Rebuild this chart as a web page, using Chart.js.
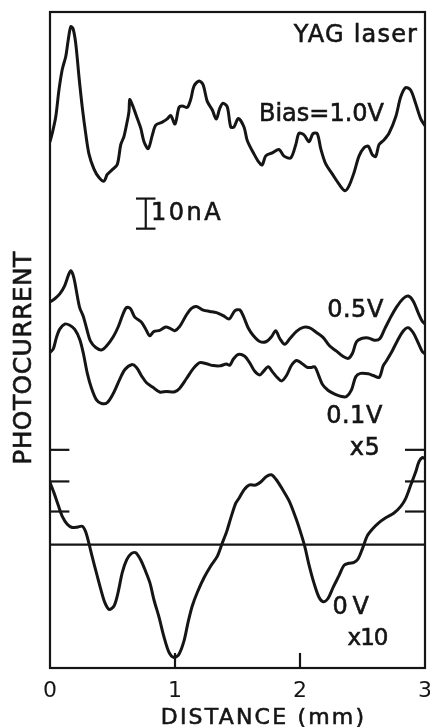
<!DOCTYPE html>
<html>
<head>
<meta charset="utf-8">
<script src="https://cdn.jsdelivr.net/npm/chart.js@4.4.1/dist/chart.umd.min.js"></script>
<style>
  html, body { margin: 0; padding: 0; background: #fff; }
  canvas { display: block; background: #fff; }
</style>
</head>
<body>
<canvas id="c" width="430" height="727"></canvas>
<script>
// Photocurrent line scans across the sample (YAG laser), traces stacked with offsets.
// Distance in mm, current in displayed nA (0.1 V trace shown x5, 0 V trace shown x10).

const xTickValues = [0, 1, 2, 3];

const bias10Dist = [0,0.018,0.046,0.072,0.098,0.126,0.146,0.166,0.184,0.206,
  0.232,0.258,0.286,0.312,0.352,0.392,0.432,0.458,0.498,0.538,
  0.566,0.592,0.618,0.632,0.638,0.658,0.698,0.726,0.752,0.786,
  0.818,0.846,0.898,0.938,0.966,1.0,1.032,1.058,1.098,1.126,
  1.152,1.192,1.224,1.258,1.298,1.33,1.358,1.384,1.418,1.446,
  1.472,1.506,1.552,1.578,1.632,1.672,1.698,1.726,1.778,1.832,
  1.872,1.926,1.966,1.992,2.032,2.072,2.104,2.138,2.166,2.206,
  2.258,2.312,2.36,2.392,2.432,2.472,2.512,2.546,2.578,2.606,
  2.632,2.672,2.712,2.766,2.806,2.846,2.886,2.926,2.966,3.0];
const bias10Curr = [174.9,177.7,183.2,192.2,198.9,203.2,208.8,213.1,212.5,207.5,
  196.4,186.4,177.5,170.8,165.8,163.0,161.8,164.0,165.6,167.3,
  173.9,176.7,181.7,185.0,188.9,187.2,182.7,179.4,174.9,172.6,
  177.0,180.4,181.4,182.5,183.6,180.8,186.3,186.8,186.3,189.0,
  193.4,195.1,193.9,188.3,185.5,182.4,186.0,187.7,186.5,179.8,
  179.8,182.6,179.8,175.3,170.8,168.0,167.2,170.2,171.2,172.3,
  170.1,169.5,173.9,177.7,177.2,174.9,177.6,177.6,172.6,167.5,
  164.2,160.8,158.6,160.2,164.6,170.1,172.9,173.4,170.6,170.0,
  173.9,175.5,177.7,183.2,189.8,192.9,192.0,187.5,182.5,180.2];

const bias05Dist = [0,0.038,0.078,0.118,0.146,0.166,0.19,0.218,0.238,0.266,
  0.292,0.324,0.366,0.412,0.452,0.506,0.546,0.58,0.612,0.644,
  0.678,0.732,0.766,0.798,0.83,0.878,0.926,0.964,0.998,1.038,
  1.092,1.132,1.172,1.226,1.278,1.332,1.386,1.434,1.478,1.518,
  1.546,1.586,1.626,1.678,1.732,1.772,1.806,1.838,1.878,1.918,
  1.972,2.026,2.078,2.132,2.186,2.238,2.292,2.346,2.386,2.42,
  2.452,2.492,2.546,2.598,2.638,2.678,2.718,2.772,2.826,2.866,
  2.906,2.946,2.978,3.0];
const bias05Curr = [121.6,122.7,124.3,127.1,130.4,132.0,129.8,123.7,119.7,116.9,
  113.0,108.6,106.5,105.7,107.0,110.1,113.4,117.2,119.8,119.4,
  116.6,114.9,112.6,110.4,111.8,112.2,113.3,112.8,112.1,113.5,
  117.4,119.5,120.1,118.9,118.5,118.1,117.1,116.0,118.7,119.0,
  117.0,113.0,110.5,108.5,108.5,110.1,112.1,109.5,107.6,109.4,
  111.9,113.2,113.0,111.5,109.8,107.0,105.3,103.5,102.9,104.6,
  108.4,109.5,109.7,108.9,109.4,112.7,116.0,119.9,122.8,123.6,
  121.9,118.0,115.2,114.3];

const bias01Dist = [0,0.026,0.052,0.078,0.118,0.158,0.198,0.238,0.266,0.298,
  0.332,0.372,0.412,0.458,0.506,0.554,0.598,0.652,0.692,0.732,
  0.772,0.826,0.878,0.932,0.998,1.038,1.092,1.146,1.198,1.252,
  1.306,1.358,1.412,1.438,1.466,1.506,1.558,1.598,1.638,1.678,
  1.706,1.746,1.78,1.812,1.852,1.892,1.932,1.972,2.012,2.058,
  2.092,2.118,2.146,2.18,2.226,2.278,2.332,2.372,2.412,2.446,
  2.484,2.546,2.586,2.634,2.666,2.692,2.732,2.772,2.826,2.866,
  2.906,2.946,2.978,3.0];
const bias01Curr = [104.9,106.0,109.9,112.6,114.3,113.9,112.5,109.2,104.7,98.0,
  93.0,89.1,87.9,88.2,91.2,95.6,99.1,100.8,99.9,97.1,
  94.8,93.2,91.7,91.9,91.8,93.0,96.2,99.5,101.5,101.1,
  100.5,100.4,101.0,100.6,102.6,104.2,103.6,101.4,98.6,97.4,
  98.5,100.1,98.4,96.8,95.4,97.2,100.6,102.2,101.3,99.9,
  99.9,100.1,97.6,94.2,92.2,91.0,90.2,90.2,92.4,96.8,
  97.9,97.8,97.2,96.6,100.5,102.1,104.9,108.2,112.0,113.1,
  111.4,108.0,105.2,104.4];

const bias00Dist = [0,0.032,0.064,0.098,0.138,0.178,0.218,0.258,0.286,0.312,
  0.338,0.374,0.406,0.438,0.472,0.512,0.544,0.578,0.614,0.65,
  0.686,0.726,0.766,0.8,0.832,0.872,0.912,0.952,0.992,1.032,
  1.072,1.104,1.138,1.178,1.232,1.286,1.338,1.378,1.414,1.446,
  1.486,1.512,1.552,1.592,1.646,1.686,1.726,1.77,1.806,1.858,
  1.912,1.966,2.006,2.038,2.072,2.112,2.152,2.186,2.224,2.266,
  2.312,2.352,2.392,2.432,2.464,2.498,2.538,2.578,2.632,2.686,
  2.752,2.806,2.846,2.886,2.926,2.952,2.978,3.0];
const bias00Curr = [61.6,58.2,54.3,50.4,47.8,46.7,46.8,47.1,45.2,41.3,
  36.9,31.2,26.2,21.8,19.5,20.6,25.0,31.7,36.0,38.0,
  38.3,35.9,32.0,28.2,22.6,16.9,10.3,5.2,3.5,4.6,
  9.0,15.1,20.6,25.1,30.0,33.9,37.1,41.5,45.4,49.8,
  54.8,56.4,59.2,60.8,60.8,61.8,63.5,64.2,62.8,59.5,
  55.6,49.9,44.9,40.4,34.3,28.2,23.5,22.0,23.1,26.9,
  30.7,34.1,34.8,35.1,36.2,39.5,43.9,46.1,48.3,49.9,
  51.5,53.7,56.4,60.8,65.2,68.6,69.9,69.6];

// zero-current reference level of the 0 V trace
const zeroLevel = 41;
// small reference marks at both edges around the 0 V trace
const edgeMarkLevels = [72.5, 62, 52];
// scale bar: 10 nA
const scaleBarNA = 10;
const scaleBarBase = 146;
const scaleBarAt = 0.766;

const Y_MAX = 218;
const INK = '#151515';

function zip(xs, ys) {
  return xs.map((x, i) => ({ x: x, y: ys[i] }));
}
function seg(x0, y0, x1, y1) {
  return [{ x: x0, y: y0 }, { x: x1, y: y1 }];
}

const traceStyle = {
  borderColor: INK, borderWidth: 3, pointRadius: 0, tension: 0.3,
  fill: false, borderJoinStyle: 'round', borderCapStyle: 'round'
};
const markStyle = {
  borderColor: INK, borderWidth: 2.2, pointRadius: 0, tension: 0, fill: false
};

const datasets = [
  Object.assign({ label: 'Bias=1.0V', data: zip(bias10Dist, bias10Curr) }, traceStyle),
  Object.assign({ label: '0.5V', data: zip(bias05Dist, bias05Curr) }, traceStyle),
  Object.assign({ label: '0.1V x5', data: zip(bias01Dist, bias01Curr) }, traceStyle),
  Object.assign({ label: '0V x10', data: zip(bias00Dist, bias00Curr) }, traceStyle),
  Object.assign({ label: 'zero', data: seg(0, zeroLevel, 3, zeroLevel) }, markStyle),
];
edgeMarkLevels.forEach(v => {
  datasets.push(Object.assign({ label: 'markL', data: seg(0, v, 0.155, v) }, markStyle));
  datasets.push(Object.assign({ label: 'markR', data: seg(2.84, v, 3, v) }, markStyle));
});
[1, 2].forEach(v => {
  datasets.push(Object.assign({ label: 'tick', data: seg(v, 0, v, 5) }, markStyle));
});
// scale bar with end serifs
datasets.push(Object.assign({ label: 'bar', data: seg(scaleBarAt, scaleBarBase, scaleBarAt, scaleBarBase + scaleBarNA) }, markStyle));
datasets.push(Object.assign({ label: 'barLo', data: seg(scaleBarAt - 0.078, scaleBarBase, scaleBarAt + 0.078, scaleBarBase) }, markStyle));
datasets.push(Object.assign({ label: 'barHi', data: seg(scaleBarAt - 0.078, scaleBarBase + scaleBarNA, scaleBarAt + 0.078, scaleBarBase + scaleBarNA) }, markStyle));

const FONT = '"DejaVu Sans", sans-serif';

// text placed in data coordinates: [text, x, y, size, spacing, align]
const notes = [
  ['YAG laser', 2.448, 210.1, 24, 1.2, 'center'],
  ['Bias=1.0V', 2.172, 183.7, 24, 0, 'center'],
  ['0.5V', 2.444, 118.6, 24, 0.5, 'center'],
  ['0.1V', 2.436, 83.5, 24, 0.5, 'center'],
  ['x5', 2.52, 73.0, 24, 0.5, 'center'],
  ['0 V', 2.40, 20.1, 24, -1.5, 'center'],
  ['x10', 2.54, 9.6, 23, -1, 'center'],
  ['10nA', 0.808, 151.0, 24, 2.5, 'left'],
  ['DISTANCE (mm)', 1.708, -16.7, 22, 2.2, 'center'],
];

function inkText(ctx, text, x, y) {
  ctx.fillText(text, x, y);
  ctx.strokeText(text, x, y);
}

const decorPlugin = {
  id: 'decor',
  afterDatasetsDraw(chart) {
    const ctx = chart.ctx;
    const a = chart.chartArea;
    const xs = chart.scales.x, ys = chart.scales.y;
    ctx.save();
    ctx.strokeStyle = INK;
    ctx.lineWidth = 2.2;
    ctx.strokeRect(a.left, a.top, a.right - a.left, a.bottom - a.top);
    ctx.fillStyle = INK;
    ctx.lineWidth = 0.6;
    ctx.textBaseline = 'middle';
    notes.forEach(n => {
      ctx.font = n[3] + 'px ' + FONT;
      ctx.letterSpacing = n[4] + 'px';
      ctx.textAlign = n[5];
      inkText(ctx, n[0], xs.getPixelForValue(n[1]), ys.getPixelForValue(n[2]));
    });
    // vertical axis title
    ctx.translate(xs.getPixelForValue(-0.208), ys.getPixelForValue(103));
    ctx.rotate(-Math.PI / 2);
    ctx.font = '25px ' + FONT;
    ctx.letterSpacing = '0.4px';
    ctx.textAlign = 'center';
    inkText(ctx, 'PHOTOCURRENT', 0, 0);
    ctx.restore();
  }
};

new Chart(document.getElementById('c'), {
  type: 'line',
  data: { datasets: datasets },
  options: {
    responsive: false,
    animation: false,
    devicePixelRatio: 1,
    layout: { padding: { left: 50, right: 5, top: 12, bottom: 13 } },
    plugins: { legend: { display: false }, tooltip: { enabled: false } },
    scales: {
      x: {
        type: 'linear', min: 0, max: 3,
        afterBuildTicks: s => { s.ticks = xTickValues.map(v => ({ value: v })); },
        afterFit: s => { s.paddingRight = 0; s.paddingLeft = 0; },
        grid: { display: false, drawTicks: false },
        border: { display: false },
        ticks: {
          padding: 12, color: INK,
          font: { family: FONT, size: 22, lineHeight: 1 },
          callback: v => String(v)
        }
      },
      y: {
        type: 'linear', min: 0, max: Y_MAX, display: false
      }
    }
  },
  plugins: [decorPlugin]
});
</script>
</body>
</html>
